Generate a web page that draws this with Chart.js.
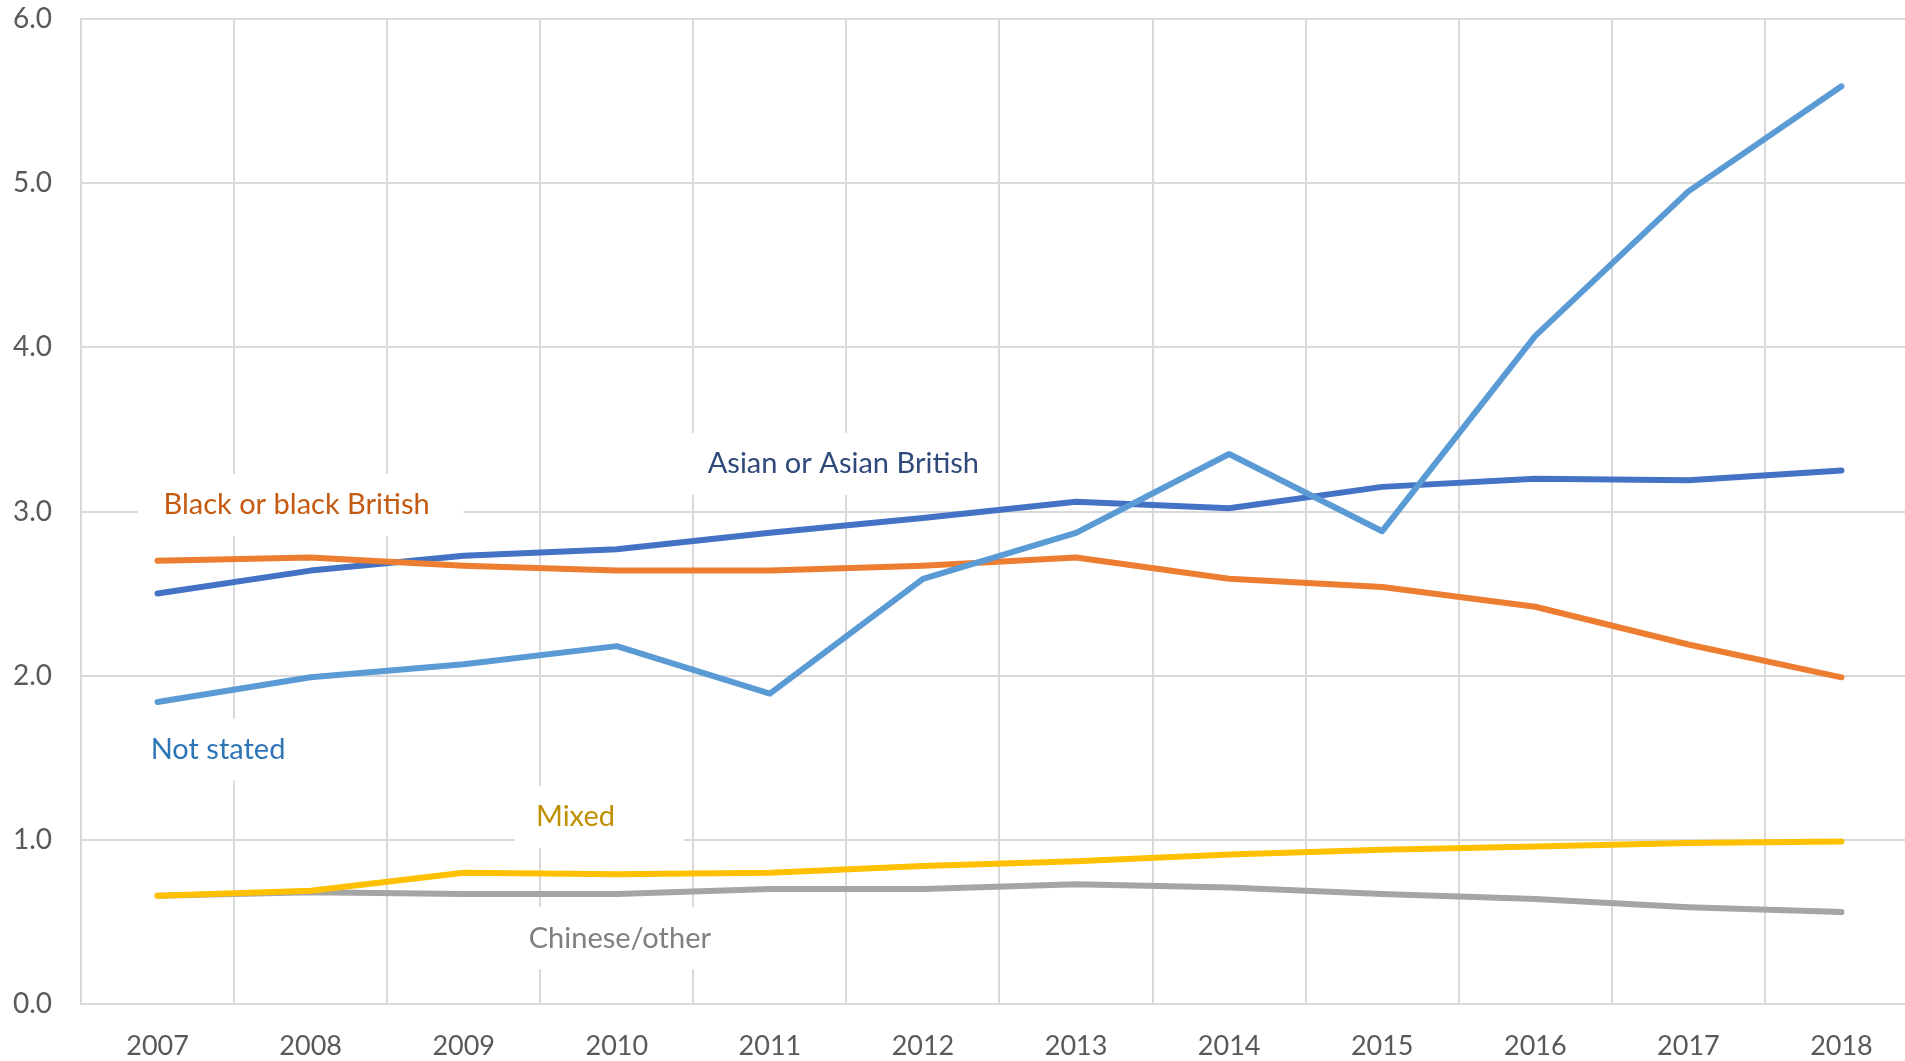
<!DOCTYPE html>
<html>
<head>
<meta charset="utf-8">
<script src="https://cdn.jsdelivr.net/npm/chart.js@4/dist/chart.umd.min.js"></script>
<style>
    html, body {
        margin: 0;
        padding: 0;
        background: #ffffff;
        overflow: hidden;
    }
    #wrap {
        position: relative;
        width: 1918px;
        height: 1061px;
    }
</style>
</head>
<body>
<div id="wrap">
    <canvas id="ethnicityChart"></canvas>
</div>

<script>
// 연도
const years = ['2007', '2008', '2009', '2010', '2011', '2012', '2013', '2014', '2015', '2016', '2017', '2018'];

// 시리즈 값
const notStated = [1.84, 1.99, 2.07, 2.18, 1.89, 2.59, 2.87, 3.35, 2.88, 4.07, 4.95, 5.59];
const mixed = [0.66, 0.69, 0.80, 0.79, 0.80, 0.84, 0.87, 0.91, 0.94, 0.96, 0.98, 0.99];
const blackBritish = [2.70, 2.72, 2.67, 2.64, 2.64, 2.67, 2.72, 2.59, 2.54, 2.42, 2.19, 1.99];
const asianBritish = [2.50, 2.64, 2.73, 2.77, 2.87, 2.96, 3.06, 3.02, 3.15, 3.20, 3.19, 3.25];
const chineseOther = [0.66, 0.68, 0.67, 0.67, 0.70, 0.70, 0.73, 0.71, 0.67, 0.64, 0.59, 0.56];

// y축 눈금
const yTicks = [0, 1, 2, 3, 4, 5, 6];

const FONT = 'Lato, "Open Sans", sans-serif';


// 시리즈 이름표 (x: 카테고리 위치, y: 값)
const seriesLabels = [
    { text: 'Asian or Asian British', color: '#2F4A7A', x: 4.48, y: 3.29, padL: 16, padR: 16 },
    { text: 'Black or black British', color: '#C55A11', x: 0.908, y: 3.04, padL: 26, padR: 34 },
    { text: 'Not stated', color: '#2E75B6', x: 0.395, y: 1.55, padL: 16, padR: 16 },
    { text: 'Mixed', color: '#BF9000', x: 2.73, y: 1.14, padL: 21, padR: 69 },
    { text: 'Chinese/other', color: '#7F7F7F', x: 3.02, y: 0.40, padL: 16, padR: 16 }
];


// 이름표 그리기 (흰 배경으로 눈금선 가림)
const seriesLabelPlugin = {
    id: 'seriesLabels',
    beforeDatasetsDraw(chart) {
        const ctx = chart.ctx;
        const xs = chart.scales.x;
        const ys = chart.scales.y;

        ctx.save();
        ctx.font = '29px ' + FONT;
        ctx.textAlign = 'center';
        ctx.textBaseline = 'middle';

        seriesLabels.forEach(function(lb) {
            const cx = xs.getPixelForValue(lb.x);
            const cy = ys.getPixelForValue(lb.y);
            const w = ctx.measureText(lb.text).width;

            ctx.fillStyle = '#ffffff';
            ctx.fillRect(cx - w / 2 - lb.padL, cy - 31, w + lb.padL + lb.padR, 62);

            ctx.fillStyle = lb.color;
            ctx.fillText(lb.text, cx, cy);
        });

        ctx.restore();
    }
};


function makeDataset(label, data, color) {
    return {
        label: label,
        data: data,
        borderColor: color,
        backgroundColor: color,
        borderWidth: 6,
        pointRadius: 0,
        tension: 0,
        borderCapStyle: 'round',
        borderJoinStyle: 'round',
        fill: false
    };
}


function initEthnicityChart() {

    const ctx = document.getElementById('ethnicityChart');

    new Chart(ctx.getContext('2d'), {
        type: 'line',
        data: {
            labels: years,
            datasets: [
                makeDataset('Not stated', notStated, '#5B9BD5'),
                makeDataset('Mixed', mixed, '#FFC000'),
                makeDataset('Black or black British', blackBritish, '#ED7D31'),
                makeDataset('Asian or Asian British', asianBritish, '#4472C4'),
                makeDataset('Chinese/other', chineseOther, '#A5A5A5')
            ]
        },
        options: {
            responsive: true,
            maintainAspectRatio: false,
            animation: false,
            layout: {
                padding: { top: 19, right: 0, bottom: 0, left: 0 }
            },
            plugins: {
                legend: { display: false },
                tooltip: { enabled: false }
            },
            scales: {
                x: {
                    offset: true,
                    grid: {
                        offset: true,
                        color: '#D9D9D9',
                        lineWidth: 2,
                        drawTicks: false
                    },
                    border: {
                        color: '#D9D9D9',
                        width: 2
                    },
                    ticks: {
                        color: '#595959',
                        padding: 26,
                        maxRotation: 0,
                        font: { family: FONT, size: 27 }
                    },
                    afterFit: function(scale) {
                        scale.height = 57;
                        scale.paddingLeft = 0;
                        scale.paddingRight = 0;
                    }
                },
                y: {
                    min: 0,
                    max: 6,
                    afterBuildTicks: function(scale) {
                        scale.ticks = yTicks.map(function(v) {
                            return { value: v };
                        });
                    },
                    grid: {
                        color: '#D9D9D9',
                        lineWidth: 2,
                        drawTicks: false
                    },
                    border: {
                        color: '#D9D9D9',
                        width: 2
                    },
                    ticks: {
                        color: '#595959',
                        padding: 29,
                        font: { family: FONT, size: 28 },
                        callback: function(v) {
                            return Number(v).toFixed(1);
                        }
                    },
                    afterFit: function(scale) {
                        scale.width = 81;
                        scale.paddingTop = 0;
                        scale.paddingBottom = 0;
                    }
                }
            }
        },
        plugins: [seriesLabelPlugin]
    });
}


initEthnicityChart();
</script>
</body>
</html>
